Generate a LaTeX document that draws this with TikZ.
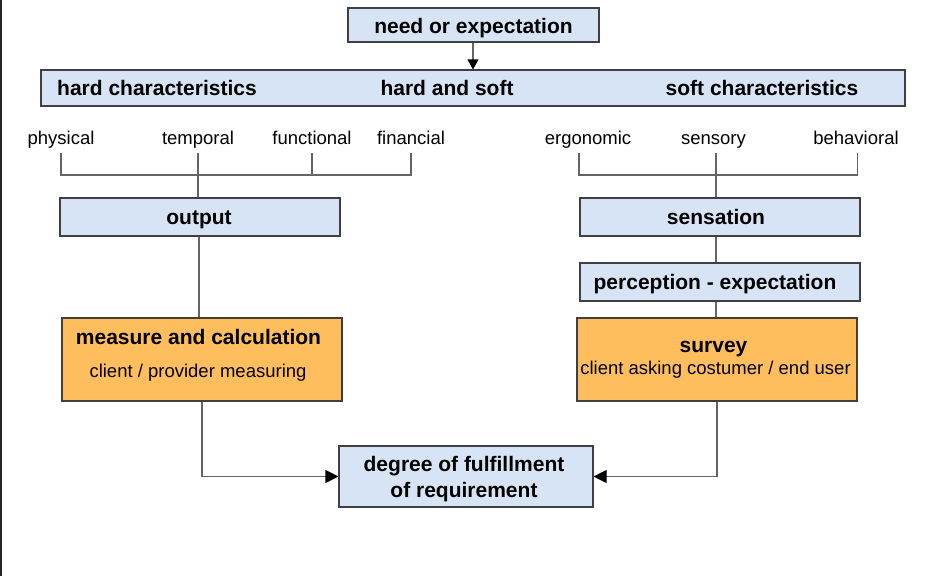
\documentclass[tikz,border=0pt]{standalone}
\usepackage{fontspec}
\setmainfont{Liberation Sans}
\usetikzlibrary{arrows.meta}
\definecolor{boxblue}{RGB}{215,228,246}
\definecolor{boxorange}{RGB}{255,190,94}
\definecolor{edgegray}{RGB}{64,64,64}
\definecolor{linegray}{RGB}{100,100,100}
\tikzset{
  bluebox/.style={draw=edgegray, line width=1.1pt, fill=boxblue, inner sep=0pt},
  orangebox/.style={draw=edgegray, line width=1.1pt, fill=boxorange, inner sep=0pt},
  boldtext/.style={inner sep=0pt, font=\fontsize{21}{26}\selectfont\bfseries,
    text height=15pt, text depth=0pt},
  plaintext/.style={inner sep=0pt, font=\fontsize{18.5}{22}\selectfont,
    text height=13.3pt, text depth=0pt},
  itemlabel/.style={plaintext, anchor=south, inner ysep=0pt},
  link/.style={draw=linegray, line width=1.1pt},
  arrowlink/.style={link, -{Triangle[length=13pt,width=13pt,color=black]}},
}
\begin{document}
\begin{tikzpicture}[x=1pt,y=-1pt]
\useasboundingbox (0,0) rectangle (941,576);
\fill[white] (0,0) rectangle (941,576);
% frame line on the left edge
\draw[line width=2pt, black!85] (1,0) -- (1,576);

% top
\node[bluebox, minimum width=251pt, minimum height=34pt] (need) at (473.5,25) {};
\node[boldtext] (needtxt) at (473.5,26) {need or expectation};
\node[bluebox, minimum width=864pt, minimum height=36pt] (bar) at (473,88) {};
\node[boldtext] (hardc) at (157,88) {hard characteristics};
\node[boldtext] (hardsoft) at (447,88) {hard and soft};
\node[boldtext] (softc) at (762,88) {soft characteristics};
\draw[link, -{Triangle[length=10pt,width=11pt,color=black]}] (need.south -| 473,0) -- (bar.north -| 473,0);

% hard characteristic items
\node[itemlabel] (physical) at (61,145) {physical};
\node[itemlabel] (temporal) at (198,145) {temporal};
\node[itemlabel] (functional) at (312,145) {functional};
\node[itemlabel] (financial) at (411,145) {financial};
\coordinate (hj) at (198,175);
\coordinate (pt) at (61,153);
\coordinate (tt) at (198,153);
\coordinate (ft) at (312,153);
\coordinate (nt) at (411,153);
\node[bluebox, minimum width=280pt, minimum height=38pt] (output) at (200,217) {};
\node[boldtext] (outputtxt) at (199,217) {output};
\draw[link] (pt) -- (pt |- hj) -- (nt |- hj) -- (nt);
\draw[link] (ft) -- (ft |- hj);
\draw[link] (tt) -- (tt |- output.north);

% soft characteristic items
\node[itemlabel] (ergonomic) at (588,145) {ergonomic};
\node[itemlabel] (sensory) at (713.5,145) {sensory};
\node[itemlabel] (behavioral) at (856,145) {behavioral};
\coordinate (sj) at (716,175);
\coordinate (et) at (579,153);
\coordinate (st) at (716,153);
\coordinate (bt) at (857.5,153);
\node[bluebox, minimum width=280pt, minimum height=38pt] (sensation) at (720,217) {};
\node[boldtext] (sensationtxt) at (716,217) {sensation};
\node[bluebox, minimum width=280pt, minimum height=38pt] (perception) at (720,282) {};
\node[boldtext] (perceptiontxt) at (715,282) {perception - expectation};
\draw[link] (et) -- (et |- sj) -- (bt |- sj) -- (bt);
\draw[link] (st) -- (st |- sensation.north);
\draw[link] (sensation.south -| st) -- (perception.north -| st);

% measuring boxes
\node[orangebox, minimum width=280pt, minimum height=83pt] (measure) at (202,359.5) {};
\node[boldtext] (measuretxt) at (198.5,337) {measure and calculation};
\node[plaintext] (measuresub) at (198,371) {client / provider measuring};
\draw[link] (output.south -| 199,0) -- (measure.north -| 199,0);

\node[orangebox, minimum width=280pt, minimum height=83pt] (survey) at (717,359.5) {};
\node[boldtext] (surveytxt) at (713.5,345) {survey};
\node[plaintext] (surveysub) at (715.5,368) {client asking costumer / end user};
\draw[link] (perception.south -| st) -- (survey.north -| st);

% result
\node[bluebox, minimum width=254pt, minimum height=61pt] (fulfil) at (466,476.5) {};
\node[boldtext] (fulfiltxta) at (464,464) {degree of fulfillment};
\node[boldtext] (fulfiltxtb) at (464,490) {of requirement};
\draw[arrowlink] (measure.south -| 202,0) |- (fulfil.west);
\draw[arrowlink] (survey.south -| 717,0) |- (fulfil.east);
\end{tikzpicture}
\end{document}
